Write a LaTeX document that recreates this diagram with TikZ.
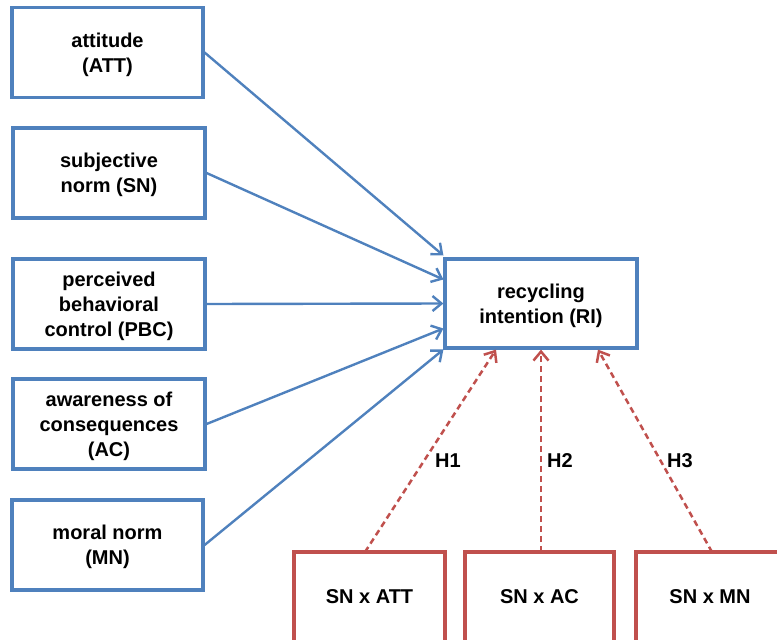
\documentclass[tikz,border=0pt]{standalone}
\usepackage{fontspec}
\setmainfont{Liberation Sans}
\usetikzlibrary{arrows.meta,calc}
\definecolor{boxblue}{HTML}{4F81BD}
\definecolor{boxred}{HTML}{C0504D}
\begin{document}
\begin{tikzpicture}[x=1pt,y=-1pt,
  txt/.style={font=\fontsize{20pt}{25pt}\selectfont\bfseries,text=black},
  bbox/.style={txt,draw=boxblue,line width=3.2pt,minimum width=191pt,minimum height=90pt,align=center,inner sep=0pt,text depth=-2pt},
  rbox/.style={txt,draw=boxred,line width=3.2pt,minimum width=150pt,minimum height=90pt,align=center,inner sep=0pt},
  barrow/.style={draw=boxblue,line width=2.4pt,-{Straight Barb[length=9pt,width=15pt,line width=2.4pt]}},
  rarrow/.style={draw=boxred,line width=2.5pt,dash pattern=on 6pt off 4pt,-{Straight Barb[length=9pt,width=15pt,line width=2.5pt]}},
  hlab/.style={txt}
]
\useasboundingbox (0,0) rectangle (777,640);
\clip (0,0) rectangle (777,640);

\node[bbox] (att) at (107.5,52.5) {attitude\\(ATT)};
\node[bbox,minimum width=192pt] (sn) at (109,173) {subjective\\norm (SN)};
\node[bbox,minimum width=192pt] (pbc) at (109,304) {perceived\\behavioral\\control (PBC)};
\node[bbox,minimum width=192pt] (ac) at (109,424) {awareness of\\consequences\\(AC)};
\node[bbox] (mn) at (107.5,545) {moral norm\\(MN)};

\node[bbox,minimum width=192pt,minimum height=89pt] (ri) at (541,303.5) {recycling\\intention (RI)};

\node[rbox,minimum width=151pt] (b1) at (369.5,597) {SN x ATT};
\node[rbox,minimum width=149pt] (b2) at (539.5,597) {SN x AC};
\node[rbox,minimum width=148pt] (b3) at (710,597) {SN x MN};

\draw[barrow] (att.east) -- ([yshift=48pt]ri.west);
\draw[barrow] (sn.east) -- ([yshift=24pt]ri.west);
\draw[barrow] (pbc.east) -- (ri.west);
\draw[barrow] (ac.east) -- ([yshift=-25pt]ri.west);
\draw[barrow] (mn.east) -- ([yshift=-46pt]ri.west);

\coordinate (s1) at (365,552);
\coordinate (s2) at (541,552);
\coordinate (s3) at (712,552);
\draw[rarrow] (s1) -- ($(ri.south)+(-45,0)$);
\draw[rarrow] (s2) -- (ri.south);
\draw[rarrow] (s3) -- ($(ri.south)+(57,0)$);

\node[hlab] (h1) at (448,461) {H1};
\node[hlab] (h2) at (560,461) {H2};
\node[hlab] (h3) at (680,461) {H3};
\end{tikzpicture}
\end{document}
